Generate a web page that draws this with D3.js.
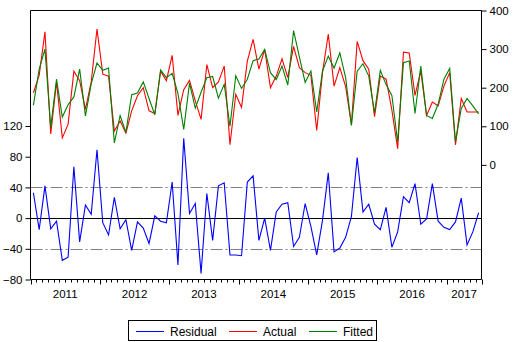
<!DOCTYPE html>
<html>
<head>
<meta charset="utf-8">
<script src="https://cdn.jsdelivr.net/npm/d3@7"></script>
<style>
  html, body { margin: 0; padding: 0; background: #fff; }
  svg { display: block; font-family: "Liberation Sans", Arial, sans-serif; }
  .ax text { font-size: 11.5px; fill: #000; }
</style>
</head>
<body>
<svg id="chart" width="515" height="342"></svg>
<script>
// Monthly observations, 2011M01 - 2017M06
const startYear = 2011;
const years = ["2011", "2012", "2013", "2014", "2015", "2016", "2017"];

const actual = [
  187, 232, 345, 80, 215, 70, 105, 243, 218, 144, 215, 352,
  235, 230, 88, 114, 82, 140, 179, 200, 140, 133, 243, 218,
  284, 128, 195, 219, 166, 118, 260, 200, 215, 256, 52, 183,
  149, 269, 325, 248, 299, 200, 230, 275, 226, 307, 252, 239,
  232, 89, 239, 339, 204, 252, 203, 104, 320, 270, 248, 125,
  230, 222, 142, 42, 292, 290, 180, 243, 128, 163, 153, 204,
  239, 52, 172, 137, 137, 137
];

const fitted = [
  155, 248, 300, 97, 222, 124, 156, 176, 248, 127, 210, 264,
  245, 251, 57, 128, 84, 182, 186, 215, 172, 130, 246, 226,
  237, 185, 92, 212, 147, 188, 226, 229, 173, 209, 100, 231,
  198, 222, 270, 274, 299, 239, 221, 256, 207, 348, 280, 214,
  243, 137, 243, 282, 251, 290, 226, 102, 243, 262, 230, 135,
  245, 208, 180, 60, 265, 269, 133, 256, 128, 120, 157, 222,
  250, 60, 146, 172, 153, 132
];

const residual = [
  33, -15, 42, -14, -4, -55, -51, 67, -31, 17, 5, 89,
  -6, -22, 27, -14, -2, -42, -5, -13, -33, 3, -4, -6,
  47, -61, 104, 6, 19, -72, 32, -29, 42, 46, -48, -48,
  -49, 47, 55, -29, 0, -42, 8, 18, 20, -37, -25, 19,
  -11, -48, -3, 59, -44, -39, -25, 2, 79, 8, 18, -8,
  -15, 14, -38, -18, 28, 20, 45, -8, -1, 45, -4, -12,
  -15, -5, 26, -35, -18, 7
];

const seStd = 40;
const leftTicks = [-80, -40, 0, 40, 80, 120];
const rightTicks = [0, 100, 200, 300, 400];
const legendNames = ["Residual", "Actual", "Fitted"];
const colors = { Residual: "#0000ff", Actual: "#ff0000", Fitted: "#008000" };

const svg = d3.select("#chart");
const L = 30.5, R = 481.5, T = 10.5, B = 279.5;

const idx = d3.range(actual.length);
const x = d3.scaleBand().domain(idx).range([L, R]).padding(0);
const xc = i => x(i) + x.bandwidth() / 2;

const yL = d3.scaleLinear().domain([-80, 270.5]).range([B, T]);
const yR = d3.scaleLinear().domain([-297, 400]).range([B, T]);

// Frame: top edge line
svg.append("line").attr("x1", L).attr("x2", R).attr("y1", T).attr("y2", T)
  .attr("stroke", "#000").attr("stroke-width", 1);

// Standard-error bands and zero line on the residual scale
[seStd, -seStd].forEach(v => {
  svg.append("line")
    .attr("x1", L).attr("x2", R)
    .attr("y1", Math.round(yL(v)) + 0.5).attr("y2", Math.round(yL(v)) + 0.5)
    .attr("stroke", "#808080").attr("stroke-width", 1)
    .attr("stroke-dasharray", "12,3,2,3");
});
svg.append("line")
  .attr("x1", L).attr("x2", R)
  .attr("y1", Math.round(yL(0)) + 0.5).attr("y2", Math.round(yL(0)) + 0.5)
  .attr("stroke", "#000").attr("stroke-width", 1);

// Series
const lineFor = (arr, scale) => d3.line().x((d, i) => xc(i)).y(d => scale(d))(arr);

svg.append("path").attr("d", lineFor(residual, yL))
  .attr("fill", "none").attr("stroke", colors.Residual).attr("stroke-width", 1.1);
svg.append("path").attr("d", lineFor(actual, yR))
  .attr("fill", "none").attr("stroke", colors.Actual).attr("stroke-width", 1.1);
svg.append("path").attr("d", lineFor(fitted, yR))
  .attr("fill", "none").attr("stroke", colors.Fitted).attr("stroke-width", 1.1);

// Left axis (residual scale)
const gL = svg.append("g").attr("class", "ax").attr("transform", `translate(${L},0)`)
  .call(d3.axisLeft(yL).tickValues(leftTicks).tickSize(5).tickPadding(3).tickFormat(d3.format("d")));
gL.select(".domain").attr("d", `M0,${T}V${B}`);

// Right axis (actual / fitted scale)
const gR = svg.append("g").attr("class", "ax").attr("transform", `translate(${R},0)`)
  .call(d3.axisRight(yR).tickValues(rightTicks).tickSize(5).tickPadding(3).tickFormat(d3.format("d")));
gR.select(".domain").attr("d", `M0,${T}V${B}`);

// Bottom axis with monthly ticks, longer ones at year boundaries
const gB = svg.append("g").attr("class", "ax");
gB.append("line").attr("x1", L).attr("x2", R).attr("y1", B).attr("y2", B).attr("stroke", "#000");
const bounds = idx.map(i => x(i)).concat([R]);
gB.selectAll("line.tk").data(bounds).join("line").attr("class", "tk")
  .attr("x1", d => Math.round(d) + 0.5).attr("x2", d => Math.round(d) + 0.5)
  .attr("y1", B).attr("y2", (d, i) => (i % 12 === 0 || i === bounds.length - 1) ? B + 5 : B + 3)
  .attr("stroke", "#000");

years.forEach((yr, k) => {
  const first = k * 12;
  const last = Math.min(first + 11, actual.length - 1);
  const x0 = x(first), x1 = x(last) + x.bandwidth();
  const t = gB.append("text").attr("y", 298).attr("text-anchor", "middle")
    .attr("x", (x0 + x1) / 2).text(yr);
  const w = t.node().getComputedTextLength();
  if ((x0 + x1) / 2 + w / 2 > R) t.attr("text-anchor", "end").attr("x", R);
});

// Legend
const lg = svg.append("g");
lg.append("rect").attr("x", 128.5).attr("y", 320.5).attr("width", 248).attr("height", 20)
  .attr("fill", "#fff").attr("stroke", "#000").attr("stroke-width", 1);
const lx = [136, 229, 309];
legendNames.forEach((n, k) => {
  lg.append("line").attr("x1", lx[k]).attr("x2", lx[k] + 28).attr("y1", 331.5).attr("y2", 331.5)
    .attr("stroke", colors[n]).attr("stroke-width", 1);
  lg.append("text").attr("x", lx[k] + 34).attr("y", 335.5).attr("font-size", 12)
    .attr("fill", "#000").text(n);
});
</script>
</body>
</html>
